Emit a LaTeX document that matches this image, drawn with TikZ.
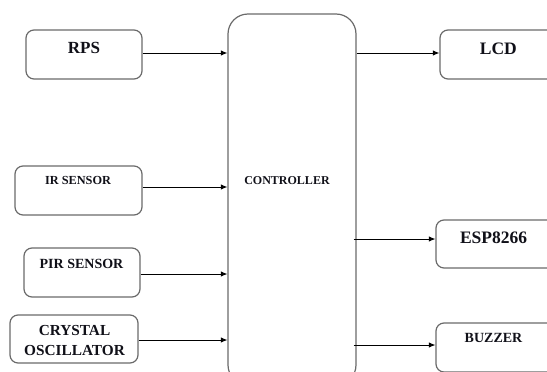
\documentclass[tikz,border=0pt]{standalone}
\usepackage{fontspec}
\setmainfont{Liberation Serif}
\usetikzlibrary{arrows.meta}
\definecolor{boxgray}{HTML}{6A6A6A}
\definecolor{txt}{HTML}{101018}
\begin{document}
\begin{tikzpicture}[x=1pt,y=-1pt,
  blk/.style={draw=boxgray, line width=1.2pt, rounded corners=8pt, inner sep=0pt},
  lbl/.style={inner sep=0pt, text=txt, align=center},
  arr/.style={line width=0.9pt, -{Latex[length=6.5pt,width=5.5pt]}}]
\useasboundingbox (0,0) rectangle (547,372);
\clip (0,0) rectangle (547,372);
% controller
\node[blk, rounded corners=20pt, minimum width=128pt, minimum height=371pt] (ctrl) at (292,199.5) {};
\node[lbl, font=\bfseries\fontsize{12}{12}\selectfont] (ctrlt) at (287,180.5) {CONTROLLER};
% inputs
\node[blk, minimum width=116pt, minimum height=49pt] (rps) at (84,54.5) {};
\node[lbl, font=\bfseries\fontsize{17}{17}\selectfont] (rpst) at (84,48.3) {RPS};
\node[blk, minimum width=127pt, minimum height=49pt] (ir) at (78.5,190.5) {};
\node[lbl, font=\bfseries\fontsize{12.3}{12}\selectfont] (irt) at (78,180.5) {IR SENSOR};
\node[blk, minimum width=116pt, minimum height=49pt] (pir) at (82,272.5) {};
\node[lbl, font=\bfseries\fontsize{14}{14}\selectfont] (pirt) at (81.5,263.5) {PIR SENSOR};
\node[blk, minimum width=128pt, minimum height=48pt] (xtal) at (74,339) {};
\node[lbl, font=\bfseries\fontsize{15.3}{20}\selectfont] (xtalt) at (74.5,340.5) {CRYSTAL\\OSCILLATOR};
% outputs
\node[blk, minimum width=120pt, minimum height=49pt] (lcd) at (500,54.5) {};
\node[lbl, font=\bfseries\fontsize{17.5}{17}\selectfont] (lcdt) at (498.3,48.5) {LCD};
\node[blk, minimum width=124pt, minimum height=48pt] (esp) at (498,244) {};
\node[lbl, font=\bfseries\fontsize{17.5}{17}\selectfont] (espt) at (493.6,237.5) {ESP8266};
\node[blk, minimum width=124pt, minimum height=49pt] (buz) at (498,347.5) {};
\node[lbl, font=\bfseries\fontsize{14}{14}\selectfont] (buzt) at (493.5,338) {BUZZER};
% connectors
\draw[arr] ([yshift=1.5pt]rps.east) -- ([yshift=1.5pt]rps.east -| ctrl.west);
\draw[arr] ([yshift=3.5pt]ir.east) -- ([yshift=3.5pt]ir.east -| ctrl.west);
\draw[arr] ([yshift=-1.5pt]pir.east) -- ([yshift=-1.5pt]pir.east -| ctrl.west);
\draw[arr] ([yshift=-1pt]xtal.east) -- ([yshift=-1pt]xtal.east -| ctrl.west);
\draw[arr] ([yshift=1.5pt]lcd.west -| ctrl.east) -- ([yshift=1.5pt]lcd.west);
\draw[arr] ([xshift=-3pt,yshift=5pt]esp.west -| ctrl.east) -- ([yshift=5pt]esp.west);
\draw[arr] ([xshift=-3pt,yshift=2.5pt]buz.west -| ctrl.east) -- ([yshift=2.5pt]buz.west);
\end{tikzpicture}
\end{document}
